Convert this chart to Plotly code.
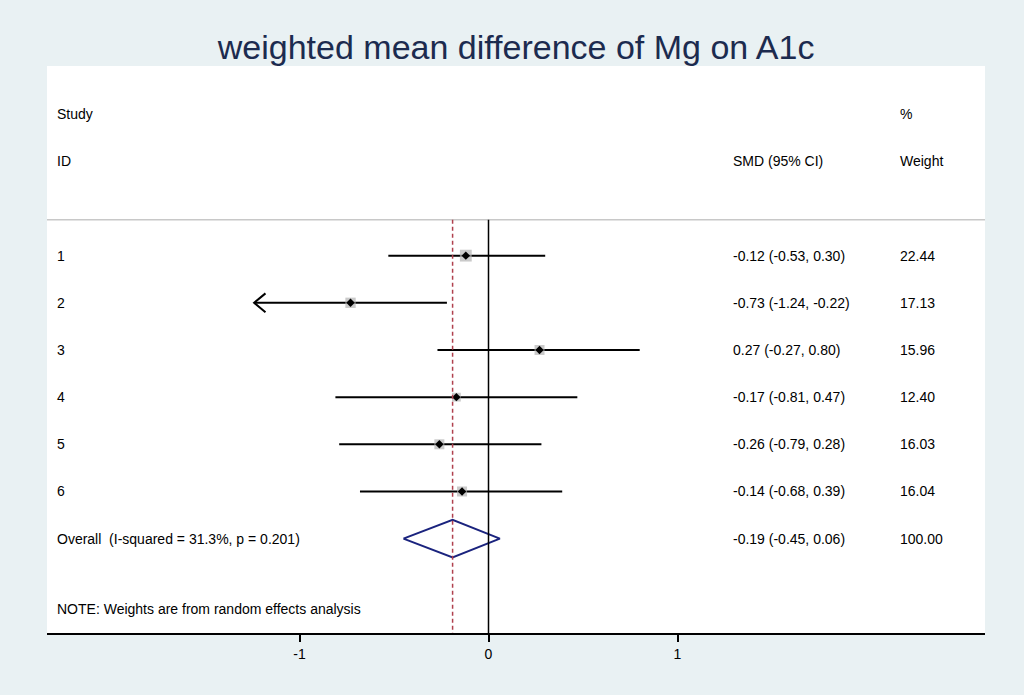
import plotly.graph_objects as go
import math

# ---- data ----
study_ids = ["1", "2", "3", "4", "5", "6"]
smd = [-0.12, -0.73, 0.27, -0.17, -0.26, -0.14]
ci_lo = [-0.53, -1.24, -0.27, -0.81, -0.79, -0.68]
ci_hi = [0.30, -0.22, 0.80, 0.47, 0.28, 0.39]
weights = [22.44, 17.13, 15.96, 12.40, 16.03, 16.04]
ci_text = ["-0.12 (-0.53, 0.30)", "-0.73 (-1.24, -0.22)", "0.27 (-0.27, 0.80)",
           "-0.17 (-0.81, 0.47)", "-0.26 (-0.79, 0.28)", "-0.14 (-0.68, 0.39)"]
weight_text = ["22.44", "17.13", "15.96", "12.40", "16.03", "16.04"]
overall_est = -0.19
overall_lo = -0.45
overall_hi = 0.06
overall_label = "Overall  (I-squared = 31.3%, p = 0.201)"
overall_ci_text = "-0.19 (-0.45, 0.06)"
overall_weight = "100.00"
x_ticks = [-1, 0, 1]
x_min_clip = -1.24

rows = list(range(1, len(study_ids) + 1))
overall_row = len(study_ids) + 1

FONT = "Liberation Sans, Arial, Helvetica, sans-serif"
BG = "#E9F1F3"
NAVY = "#1C2B4F"

fig = go.Figure()

# CI lines
for r, lo, hi in zip(rows, ci_lo, ci_hi):
    fig.add_trace(go.Scatter(x=[lo, hi], y=[r, r], mode="lines",
                             line=dict(color="black", width=2),
                             hoverinfo="skip", showlegend=False))

# arrow for clipped CI (row 2)
for r, lo in zip(rows, ci_lo):
    if lo <= x_min_clip:
        dx = 0.06
        dy = 0.2
        fig.add_trace(go.Scatter(x=[lo + dx, lo, lo + dx], y=[r - dy, r, r + dy],
                                 mode="lines", line=dict(color="black", width=2),
                                 hoverinfo="skip", showlegend=False))

# weight boxes
fig.add_trace(go.Scatter(x=smd, y=rows, mode="markers",
                         marker=dict(symbol="square", color="#B4B4B4",
                                     size=[2.5 * math.sqrt(w) for w in weights],
                                     line=dict(width=0)),
                         hoverinfo="skip", showlegend=False))
# point estimates
fig.add_trace(go.Scatter(x=smd, y=rows, mode="markers",
                         marker=dict(symbol="diamond", color="black", size=6.5,
                                     line=dict(width=0)),
                         hoverinfo="skip", showlegend=False))

# overall diamond
h = 0.4
fig.add_trace(go.Scatter(x=[overall_lo, overall_est, overall_hi, overall_est, overall_lo],
                         y=[overall_row, overall_row - h, overall_row, overall_row + h, overall_row],
                         mode="lines", line=dict(color="#1A237E", width=2),
                         hoverinfo="skip", showlegend=False))

# header separator line
fig.add_shape(type="line", xref="paper", yref="y", x0=0, x1=1, y0=0.24, y1=0.24,
              line=dict(color="#C8C8C8", width=1.5))
# null line
fig.add_shape(type="line", xref="x", yref="y", x0=0, x1=0, y0=0.24, y1=9.0,
              line=dict(color="black", width=1.5))
# overall effect dashed line
fig.add_shape(type="line", xref="x", yref="y", x0=overall_est, x1=overall_est, y0=0.24, y1=9.0,
              line=dict(color="#B0404E", width=1.5, dash="4px,3px"))

def txt(x, y, s):
    fig.add_annotation(x=x, y=y, xref="paper", yref="y", text=s, showarrow=False,
                       xanchor="left", yanchor="middle",
                       font=dict(family=FONT, size=14, color="black"))

X_ID, X_CI, X_W = 0.0085, 0.729, 0.9073
txt(X_ID, -2, "Study")
txt(X_ID, -1, "ID")
txt(X_CI, -1, "SMD (95% CI)")
txt(X_W, -2, "%")
txt(X_W, -1, "Weight")
for r, sid, ct, wt in zip(rows, study_ids, ci_text, weight_text):
    txt(X_ID, r, sid)
    txt(X_CI, r, ct)
    txt(X_W, r, wt)
txt(X_ID, overall_row, overall_label)
txt(X_CI, overall_row, overall_ci_text)
txt(X_W, overall_row, overall_weight)
txt(X_ID, 8.5, "NOTE: Weights are from random effects analysis")

fig.update_layout(
    width=1024, height=695,
    margin=dict(l=47, r=39, t=66, b=62),
    paper_bgcolor=BG, plot_bgcolor="white",
    title=dict(text="weighted mean difference of Mg on A1c", x=0.504, xanchor="center",
               y=1 - 47 / 695, yanchor="middle",
               font=dict(family=FONT, size=34, color=NAVY)),
    xaxis=dict(range=[-2.336, 2.627], tickvals=x_ticks, ticktext=[str(t) for t in x_ticks],
               showgrid=False, zeroline=False, showline=True, linecolor="black", linewidth=1.5,
               ticks="outside", ticklen=7, tickwidth=1.5, tickcolor="black",
               tickfont=dict(family=FONT, size=14, color="black")),
    yaxis=dict(range=[9.0, -3.02], showgrid=False, zeroline=False, showticklabels=False,
               showline=False),
    showlegend=False,
)

fig.write_html("out.html", config={"displayModeBar": False},
               post_script="document.body.style.margin='0';document.body.style.background='%s';" % BG)
